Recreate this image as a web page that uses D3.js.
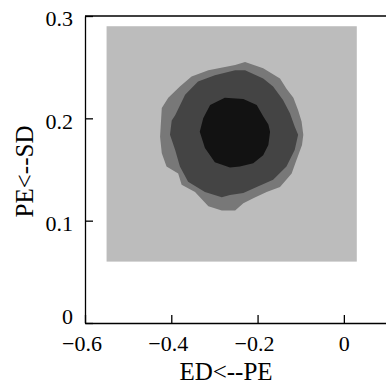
<!DOCTYPE html>
<html>
<head>
<meta charset="utf-8">
<script src="https://cdn.jsdelivr.net/npm/d3@7"></script>
<style>
  body { margin: 0; background: #fff; }
  text { font-family: "Liberation Serif", "Times New Roman", "DejaVu Serif", serif; fill: #000; }
</style>
</head>
<body>
<div id="chart"></div>
<script>
// tick values
const xTicks = [-0.6, -0.4, -0.2, 0];
const yTicks = [0, 0.1, 0.2, 0.3];

// extent of the gridded surface (lowest level)
const gridX = [-0.55, 0.03];
const gridY = [0.06, 0.29];

// contour outlines [x, y]
const outerLevel = [
  [-0.229, 0.255], [-0.187, 0.249], [-0.148, 0.239], [-0.133, 0.229], [-0.117, 0.220],
  [-0.106, 0.208], [-0.098, 0.197], [-0.094, 0.184], [-0.097, 0.174], [-0.110, 0.159],
  [-0.121, 0.146], [-0.148, 0.133], [-0.179, 0.128], [-0.210, 0.122], [-0.233, 0.117],
  [-0.252, 0.110], [-0.283, 0.110], [-0.314, 0.114], [-0.345, 0.128], [-0.376, 0.135],
  [-0.384, 0.146], [-0.411, 0.153], [-0.422, 0.166], [-0.426, 0.182], [-0.422, 0.210],
  [-0.407, 0.220], [-0.380, 0.231], [-0.353, 0.241], [-0.314, 0.247], [-0.252, 0.252]
];
const middleLevel = [
  [-0.229, 0.247], [-0.187, 0.239], [-0.164, 0.231], [-0.141, 0.218], [-0.125, 0.205],
  [-0.114, 0.192], [-0.106, 0.184], [-0.114, 0.169], [-0.133, 0.153], [-0.164, 0.140],
  [-0.202, 0.133], [-0.233, 0.127], [-0.264, 0.125], [-0.283, 0.123], [-0.322, 0.128],
  [-0.361, 0.138], [-0.380, 0.153], [-0.391, 0.169], [-0.403, 0.184], [-0.399, 0.198],
  [-0.391, 0.203], [-0.368, 0.223], [-0.338, 0.236], [-0.299, 0.242], [-0.252, 0.247]
];
const innerLevel = [
  [-0.233, 0.219], [-0.202, 0.213], [-0.187, 0.202], [-0.175, 0.194], [-0.171, 0.187],
  [-0.175, 0.174], [-0.187, 0.164], [-0.210, 0.156], [-0.241, 0.153], [-0.264, 0.152],
  [-0.299, 0.157], [-0.322, 0.171], [-0.334, 0.187], [-0.326, 0.200], [-0.310, 0.213],
  [-0.276, 0.220]
];
const levelColors = ["#bcbcbc", "#787878", "#444444", "#121212"];

const width = 386, height = 384;
const margin = {top: 16, right: -1, bottom: 61, left: 85};

const svg = d3.select('#chart').append('svg')
  .attr('width', width)
  .attr('height', height);

const x = d3.scaleLinear()
  .domain([-0.6, 0.1])
  .range([margin.left, width - margin.right]);

const y = d3.scaleLinear()
  .domain([0, 0.3])
  .range([height - margin.bottom, margin.top]);

// background level
svg.append('rect')
  .attr('x', x(gridX[0]))
  .attr('y', y(gridY[1]))
  .attr('width', x(gridX[1]) - x(gridX[0]))
  .attr('height', y(gridY[0]) - y(gridY[1]))
  .attr('fill', levelColors[0]);

const line = d3.line()
  .x(d => x(d[0]))
  .y(d => y(d[1]))
  .curve(d3.curveLinearClosed);

[outerLevel, middleLevel, innerLevel].forEach((poly, i) => {
  svg.append('path')
    .attr('d', line(poly))
    .attr('fill', levelColors[i + 1]);
});

const fmt = d => d === 0 ? '0' : d3.format('.1f')(d);
const serif = '"Liberation Serif", "Times New Roman", serif';

// x axis, ticks pointing inward
const gx = svg.append('g')
  .attr('transform', 'translate(0,' + y(0) + ')')
  .call(d3.axisBottom(x).tickValues(xTicks).tickFormat(fmt).tickSizeInner(-8).tickSizeOuter(0).tickPadding(12));
gx.select('.domain').attr('stroke-width', 1.3);
gx.selectAll('.tick line').attr('stroke-width', 1.3);
gx.selectAll('.tick text')
  .attr('font-size', 22)
  .attr('font-family', serif)
  .attr('dx', d => d < 0 ? -3.5 : 0);

// y axis
const gy = svg.append('g')
  .attr('transform', 'translate(' + x(-0.6) + ',0)')
  .call(d3.axisLeft(y).tickValues(yTicks).tickFormat(fmt).tickSizeInner(-8).tickSizeOuter(0).tickPadding(12));
gy.select('.domain').attr('stroke-width', 1.3);
gy.selectAll('.tick line').attr('stroke-width', 1.3);
gy.selectAll('.tick text')
  .attr('font-size', 22)
  .attr('font-family', serif)
  .attr('dy', d => d === 0 ? '0.04em' : '0.45em');

// top frame line
svg.append('line')
  .attr('x1', x(-0.6)).attr('x2', width)
  .attr('y1', y(0.3)).attr('y2', y(0.3))
  .attr('stroke', '#000').attr('stroke-width', 1.3);

// axis titles
svg.append('text')
  .attr('x', 226).attr('y', 380)
  .attr('text-anchor', 'middle')
  .attr('font-size', 25)
  .text('ED<--PE');

svg.append('text')
  .attr('transform', 'translate(33,' + (y(0.15) + 2) + ') rotate(-90)')
  .attr('text-anchor', 'middle')
  .attr('font-size', 25)
  .text('PE<--SD');
</script>
</body>
</html>
